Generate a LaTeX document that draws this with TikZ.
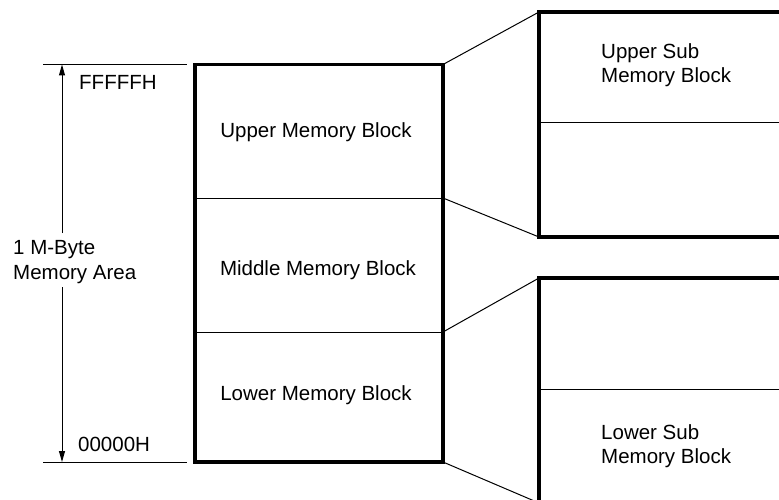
\documentclass[tikz,border=0pt]{standalone}
\usepackage{fontspec}
\setmainfont{Liberation Sans}
\usetikzlibrary{arrows.meta}
\begin{document}
\begin{tikzpicture}[x=1pt,y=-1pt,
  boxline/.style={line width=3.5pt},
  thinline/.style={line width=1pt},
  lbl/.style={font=\fontsize{20.5}{24.5}\selectfont, inner sep=0pt, align=left},
  dimarrow/.style={thinline,-{Triangle[length=11pt,width=6pt]}}]
\clip (0,0) rectangle (779,500);
% main block corners and dividers
\coordinate (mtl) at (195,64.5);
\coordinate (mtr) at (443,64.5);
\coordinate (mbl) at (195,462);
\coordinate (mbr) at (443,462);
\coordinate (d1l) at (195,198);
\coordinate (d1r) at (443,198);
\coordinate (d2l) at (195,332);
\coordinate (d2r) at (443,332);
\draw[boxline] (mtl) rectangle (mbr);
\draw[thinline] (d1l) -- (d1r);
\draw[thinline] (d2l) -- (d2r);
% upper sub block
\coordinate (utl) at (539,12);
\coordinate (utr) at (800,12);
\coordinate (ubl) at (539,237);
\coordinate (ubr) at (800,237);
\coordinate (udl) at (539,123);
\coordinate (udr) at (800,123);
\draw[boxline] (utr) -- (utl) -- (ubl) -- (ubr);
\draw[thinline] (udl) -- (udr);
% lower sub block
\coordinate (ltl) at (539,278);
\coordinate (ltr) at (800,278);
\coordinate (lbl) at (539,503);
\coordinate (lbr) at (800,503);
\coordinate (ldl) at (539,389);
\coordinate (ldr) at (800,389);
\draw[boxline] (ltr) -- (ltl) -- (lbl) -- (lbr);
\draw[thinline] (ldl) -- (ldr);
% connectors
\draw[thinline] (mtr) -- (utl);
\draw[thinline] (d1r) -- (ubl);
\draw[thinline] (d2r) -- (ltl);
\draw[thinline] (mbr) -- (lbl);
% extension lines
\coordinate (etl) at (43,64.5);
\coordinate (etr) at (187,64.5);
\coordinate (ebl) at (43,462);
\coordinate (ebr) at (187,462);
\draw[thinline] (etl) -- (etr);
\draw[thinline] (ebl) -- (ebr);
% dimension arrow
\coordinate (axtop) at (62,64.5);
\coordinate (axbot) at (62,462);
\coordinate (axgap1) at (62,233);
\coordinate (axgap2) at (62,287);
\draw[dimarrow] (axgap1) -- (axtop);
\draw[dimarrow] (axgap2) -- (axbot);
% labels
\node[lbl, anchor=west] (area) at (13,262) {1 M-Byte\\Memory Area};
\node[lbl, anchor=west] (ffff) at (79,82) {FFFFFH};
\node[lbl, anchor=west] (zero) at (78,444) {00000H};
\node[lbl] (upper) at (316,132) {Upper Memory Block};
\node[lbl] (middle) at (318,270) {Middle Memory Block};
\node[lbl] (lower) at (316,395) {Lower Memory Block};
\node[lbl, anchor=west] (usub) at (601,65) {Upper Sub\\Memory Block};
\node[lbl, anchor=west] (lsub) at (601,446) {Lower Sub\\Memory Block};
\end{tikzpicture}
\end{document}
